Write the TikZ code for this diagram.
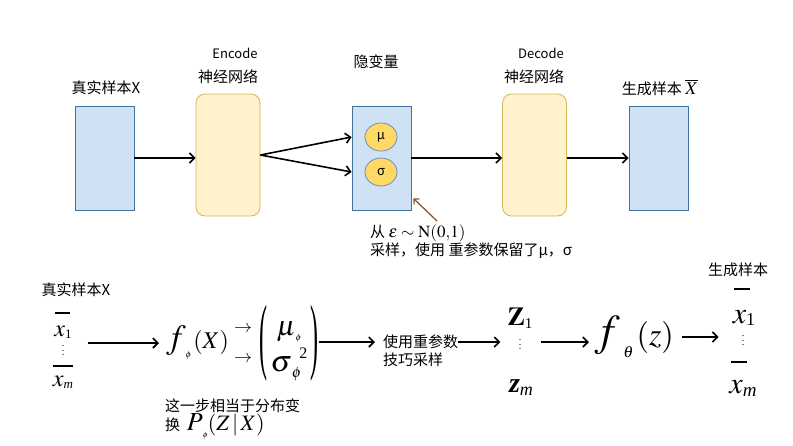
\documentclass[tikz,border=0pt]{standalone}
\usepackage{mathptmx}
\usepackage{amsmath}
\usepackage{fontspec}
\setmainfont{Liberation Serif}
\newfontfamily\cjk{Noto Sans CJK SC}
\usetikzlibrary{arrows.meta,shapes.geometric}

\definecolor{sampleFill}{RGB}{207,226,243}
\definecolor{sampleLine}{RGB}{65,113,156}
\definecolor{netFill}{RGB}{255,242,204}
\definecolor{netLine}{RGB}{214,182,86}
\definecolor{paramFill}{RGB}{255,217,102}
\definecolor{paramLine}{RGB}{108,142,191}
\definecolor{noteBrown}{RGB}{140,75,30}

\newcommand{\sz}[2]{{\fontsize{#1}{#1}\selectfont #2}}
\newcommand{\coldots}{\vbox{\baselineskip4.5pt\lineskiplimit0pt\hbox{.}\hbox{.}\hbox{.}}}
\newcommand{\tallparen}[1]{\vcenter{\hbox{\scalebox{1}[3.5]{\sz{24}{#1}}}}}

\begin{document}
\begin{tikzpicture}[x=1pt,y=-1pt]


\tikzset{SampleStyle/.style = {draw=sampleLine, fill=sampleFill, line width=.8pt,
                               minimum width=59pt, minimum height=104pt, inner sep=0pt},
         NetStyle/.style    = {draw=netLine, fill=netFill, line width=.8pt, rounded corners=9pt,
                               minimum width=64pt, minimum height=122pt, inner sep=0pt},
         ParamStyle/.style  = {ellipse, draw=paramLine, fill=paramFill, line width=.8pt,
                               minimum width=32pt, minimum height=28pt, inner sep=0pt,
                               font=\cjk\fontsize{13}{13}\selectfont},
         LabelStyle/.style  = {inner sep=0pt, font=\cjk\fontsize{15}{17}\selectfont},
         SmallStyle/.style  = {inner sep=0pt, font=\cjk\fontsize{13}{15}\selectfont},
         MathStyle/.style   = {inner sep=0pt},
         FlowArrow/.style   = {line width=1.6pt, -{Straight Barb[length=5pt,width=10pt]}}}

\useasboundingbox (0,0) rectangle (793,445);

% top row
\node[SampleStyle] (real)   at (104.5,158) {};
\node[NetStyle]    (enc)    at (228,155)   {};
\node[SampleStyle] (latent) at (381.5,158) {};
\node[ParamStyle]  (mu)     at (381,137)   {μ};
\node[ParamStyle]  (sigma)  at (381,172)   {σ};
\node[NetStyle]    (dec)    at (534.5,155) {};
\node[SampleStyle] (gen)    at (658.5,158) {};

\node[LabelStyle] (realLabel)   at (106,88)  {真实样本X};
\node[SmallStyle] (encName)     at (235,53)  {Encode};
\node[LabelStyle] (encLabel)    at (228,77)  {神经网络};
\node[LabelStyle] (latentLabel) at (376,62)  {隐变量};
\node[SmallStyle] (decName)     at (541,53)  {Decode};
\node[LabelStyle] (decLabel)    at (534,77)  {神经网络};
\node[LabelStyle] (genLabel)    at (660,88)  {生成样本 \sz{18}{$\overline{X}$}};

\node[LabelStyle, anchor=west] (epsNote)  at (370,233)
  {从 \sz{17}{$\varepsilon\sim\mathrm{N}(0{,}1)$}};
\node[LabelStyle, anchor=west] (epsNoteB) at (370,251) {采样，使用 重参数保留了μ，σ};
\coordinate (epsStart) at (437,221);

\draw[FlowArrow] (real.east) -- (real.east -| enc.west);
\draw[FlowArrow] (enc.east) -- (latent.west |- mu);
\draw[FlowArrow] (enc.east) -- (latent.west |- sigma);
\draw[FlowArrow] (latent.east) -- (latent.east -| dec.west);
\draw[FlowArrow] (dec.east |- gen) -- (gen.west);
\draw[noteBrown, line width=1.2pt, -{Straight Barb[length=4pt,width=8pt]}]
  (epsStart) -- ([xshift=2pt,yshift=12pt]latent.south east);

% bottom row
\node[LabelStyle] (realLabelB) at (76,290) {真实样本X};
\node[MathStyle] (barA) at (62.5,313) {\rule{15pt}{1.3pt}};
\node[MathStyle] (xa)   at (63,332) {\sz{24}{$x$}\raisebox{-2pt}{\sz{13}{1}}};
\node[MathStyle] (dotA) at (63,351) {\coldots};
\node[MathStyle] (barB) at (62.5,366) {\rule{20pt}{1.3pt}};
\node[MathStyle] (xm)   at (63,382) {\sz{24}{$x$}\raisebox{-2pt}{\sz{13}{\itshape m}}};

\node[MathStyle, anchor=west] (fphi) at (166,343)
  {\sz{34}{$f$}\raisebox{-9pt}{\sz{9}{$\phi$}}\kern2pt\sz{24}{$(X)$}};
\node[MathStyle] (toMu)    at (243,329) {\sz{18}{$\rightarrow$}};
\node[MathStyle] (toSigma) at (243,359) {\sz{18}{$\rightarrow$}};
\node[MathStyle] (params)  at (289,343)
  {$\tallparen{(}\kern3pt\vcenter{\hbox{\begin{tabular}{@{}c@{}}
     \rule[-8pt]{0pt}{38pt}\sz{28}{$\mu$}\raisebox{-5pt}{\sz{9}{$\phi$}}\\
     \rule[-8pt]{0pt}{36pt}\sz{30}{$\sigma$}\raisebox{-6pt}{\sz{15}{$\phi$}}\kern-2pt\raisebox{13pt}{\sz{16}{2}}
   \end{tabular}}}\kern3pt\tallparen{)}$};

\node[LabelStyle, anchor=west] (reparamA) at (383,342) {使用重参数};
\node[LabelStyle, anchor=west] (reparamB) at (383,360) {技巧采样};

\node[MathStyle] (za)   at (520,318) {\sz{26}{$\mathbf{Z}$}\raisebox{-3pt}{\sz{15}{1}}};
\node[MathStyle] (dotZ) at (520,345) {\coldots};
\node[MathStyle] (zm)   at (521,388) {\sz{28}{\bfseries\itshape z}\raisebox{-3pt}{\sz{18}{\itshape m}}};

\node[MathStyle, anchor=west] (ftheta) at (595,337)
  {\sz{44}{$f$}\kern3pt\raisebox{-12pt}{\sz{16}{$\theta$}}\kern3pt\sz{32}{$(z)$}};

\node[LabelStyle] (genLabelB) at (738,270) {生成样本};
\node[MathStyle] (barC)  at (742,289) {\rule{16pt}{1.3pt}};
\node[MathStyle] (gxa)   at (744,318) {\sz{30}{$x$}\raisebox{-2pt}{\sz{18}{1}}};
\node[MathStyle] (dotX)  at (743,341) {\coldots};
\node[MathStyle] (barD)  at (739,362) {\rule{16pt}{1.3pt}};
\node[MathStyle] (gxm)   at (743,388) {\sz{30}{$x$}\raisebox{-3pt}{\sz{19}{\itshape m}}};

\node[LabelStyle, anchor=west] (stepNote)  at (165,406) {这一步相当于分布变};
\node[LabelStyle, anchor=west] (stepNoteB) at (165,426)
  {换\ \ \sz{26}{$P$}\raisebox{-7pt}{\sz{8}{$\phi$}}\sz{22}{$(Z\,|\,X)$}};

\draw[FlowArrow] ([xshift=16pt]xa.east |- fphi) -- ([xshift=-7pt]fphi.west);
\draw[FlowArrow] (params.east |- reparamA) -- ([xshift=-8pt]reparamA.west);
\draw[FlowArrow] (reparamA.east) -- ([xshift=-7pt]za.west |- reparamA);
\draw[FlowArrow] ([xshift=8pt]za.east |- reparamA) -- ([xshift=-6pt]ftheta.west |- reparamA);
\draw[FlowArrow] ([xshift=8pt]ftheta.east) -- ([xshift=-14pt]gxa.west |- ftheta);

\end{tikzpicture}
\end{document}
